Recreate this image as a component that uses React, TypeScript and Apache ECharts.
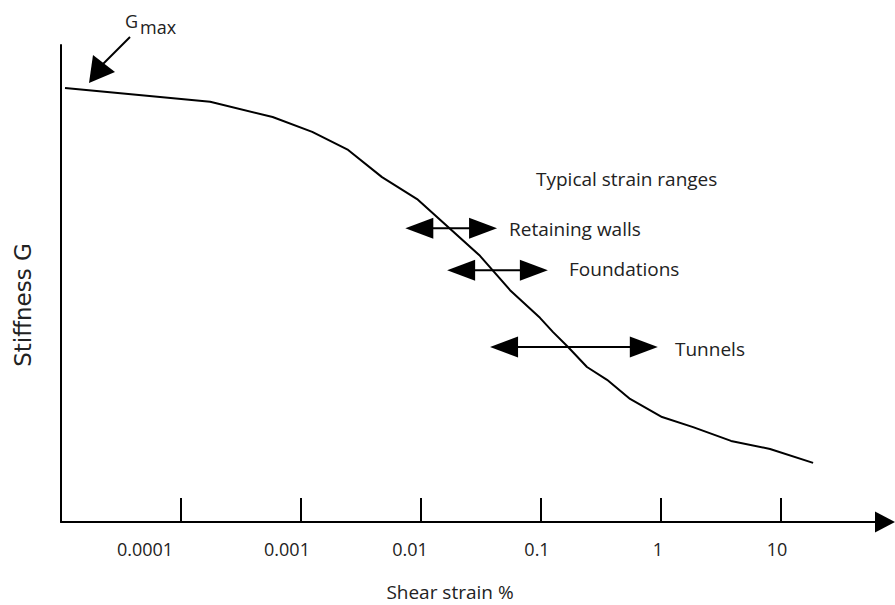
import React, { useEffect, useRef } from "react";
import * as echarts from "echarts";

// Shear strain (%) and relative stiffness G
const strainValues = [
  0.0000108, 0.000175, 0.00058, 0.00124, 0.00247, 0.00473, 0.00927, 0.031,
  0.0552, 0.098, 0.126, 0.168, 0.2415, 0.355, 0.552, 1.02, 1.85, 3.83, 8.1, 18.5,
];
const stiffnessValues = [
  91.0, 88.1, 84.9, 81.8, 78.0, 72.3, 67.7, 55.8, 48.6, 42.8, 39.8, 36.7, 32.5,
  29.8, 25.8, 22.0, 19.9, 17.0, 15.3, 12.4,
];

// Typical strain ranges (min %, max %, row level on the G scale)
const rangeNames = ["Retaining walls", "Foundations", "Tunnels"];
const rangeMinStrain = [0.0074, 0.0165, 0.0376];
const rangeMaxStrain = [0.043, 0.114, 0.94];
const rangeLevel = [61.6, 52.8, 36.7];

// Axis
const tickValues = [0.0001, 0.001, 0.01, 0.1, 1, 10];
const tickLabels = ["0.0001", "0.001", "0.01", "0.1", "1", "10"];
const axisMinStrain = 0.00001;
const axisMaxStrain = 73.5;

// Label shift to the left of its tick (px), as in the reference drawing
const tickLabelShift = [36, 14, 11, 4, 3, 4];

const FONT = "'Open Sans', 'Noto Sans', sans-serif";
const TEXT = "#222";

export default function App() {
  const ref = useRef<HTMLDivElement>(null);
  useEffect(() => {
    if (!ref.current) return;
    const chart = echarts.init(ref.current, undefined, { renderer: "svg" });
    const lg = (v: number) => Math.log10(v);
    const lineData = strainValues.map((s, i) => [lg(s), stiffnessValues[i]]);
    const rangeData = rangeNames.map((n, i) => [
      lg(rangeMinStrain[i]),
      lg(rangeMaxStrain[i]),
      rangeLevel[i],
    ]);
    const tickLog = tickValues.map(lg);
    const rich: any = {};
    tickLabelShift.forEach((s, i) => {
      rich["t" + i] = {
        padding: [0, s * 2, 0, 0],
        fontSize: 18,
        fontFamily: FONT,
        color: TEXT,
      };
    });

    const txt = (text: string, x: number, y: number, size = 19, extra: any = {}) => ({
      type: "text",
      x,
      y,
      style: {
        text,
        fill: TEXT,
        font: `${size}px ${FONT}`,
        textVerticalAlign: "middle",
        ...extra,
      },
    });

    chart.setOption({
      animation: false,
      grid: [
        { left: 61, right: 10, top: 45, bottom: 83 },
        { left: 61, width: 720, top: 45, bottom: 83 },
      ],
      xAxis: [
        {
          type: "value",
          gridIndex: 0,
          min: lg(axisMinStrain),
          max: lg(axisMaxStrain),
          axisLine: {
            show: true,
            onZero: false,
            lineStyle: { color: "#000", width: 2 },
            symbol: ["none", "triangle"],
            symbolSize: [21, 20],
          },
          axisTick: { show: false },
          axisLabel: { show: false },
          splitLine: { show: false },
        },
        {
          type: "value",
          gridIndex: 1,
          min: lg(axisMinStrain),
          max: tickLog[tickLog.length - 1],
          interval: 1,
          axisLine: { show: false, onZero: false },
          axisTick: {
            show: true,
            inside: true,
            length: 24,
            lineStyle: { color: "#000", width: 2 },
          },
          axisLabel: {
            show: true,
            margin: 18,
            showMinLabel: false,
            color: TEXT,
            fontFamily: FONT,
            fontSize: 18,
            rich,
            formatter: (v: number) => {
              const idx = tickLog.findIndex((t) => Math.abs(t - v) < 1e-6);
              return idx >= 0 ? `{t${idx}|${tickLabels[idx]}}` : "";
            },
          },
          splitLine: { show: false },
        },
      ],
      yAxis: [
        {
          type: "value",
          gridIndex: 0,
          min: 0,
          max: 100,
          axisLine: { show: true, onZero: false, lineStyle: { color: "#000", width: 2 } },
          axisTick: { show: false },
          axisLabel: { show: false },
          splitLine: { show: false },
        },
        {
          type: "value",
          gridIndex: 1,
          min: 0,
          max: 100,
          show: false,
        },
      ],
      series: [
        {
          type: "line",
          xAxisIndex: 0,
          yAxisIndex: 0,
          data: lineData,
          showSymbol: false,
          lineStyle: { color: "#000", width: 2 },
          z: 3,
        },
        {
          type: "custom",
          xAxisIndex: 0,
          yAxisIndex: 0,
          data: rangeData,
          encode: { x: [0, 1], y: 2 },
          renderItem: (params: any, api: any) => {
            const a = api.coord([api.value(0), api.value(2)]);
            const b = api.coord([api.value(1), api.value(2)]);
            const L = 28;
            const H = 10.5;
            return {
              type: "group",
              children: [
                {
                  type: "line",
                  shape: { x1: a[0] + L - 2, y1: a[1], x2: b[0] - L + 2, y2: b[1] },
                  style: { stroke: "#000", lineWidth: 2 },
                },
                {
                  type: "polygon",
                  shape: { points: [[a[0], a[1]], [a[0] + L, a[1] - H], [a[0] + L, a[1] + H]] },
                  style: { fill: "#000" },
                },
                {
                  type: "polygon",
                  shape: { points: [[b[0], b[1]], [b[0] - L, b[1] - H], [b[0] - L, b[1] + H]] },
                  style: { fill: "#000" },
                },
              ],
            };
          },
          z: 4,
        },
      ],
      graphic: [
        // G max annotation
        {
          type: "line",
          shape: { x1: 130, y1: 37, x2: 103, y2: 64 },
          style: { stroke: "#000", lineWidth: 2 },
        },
        {
          type: "polygon",
          shape: { points: [[89, 83], [93, 55], [115, 72]] },
          style: { fill: "#000" },
        },
        txt("G", 125, 21, 18),
        txt("max", 140, 27, 18),
        txt("Typical strain ranges", 536, 179),
        txt(rangeNames[0], 509, 229),
        txt(rangeNames[1], 569, 269),
        txt(rangeNames[2], 675, 349),
        txt("Shear strain %", 450, 592, 19, { textAlign: "center", lineHeight: 19 }),
        {
          type: "text",
          x: 23,
          y: 305,
          rotation: Math.PI / 2,
          style: {
            text: "Stiffness G",
            fill: TEXT,
            font: `23px 'DejaVu Sans', sans-serif`,
            textAlign: "center",
            textVerticalAlign: "middle",
          },
        },
      ],
    });
    return () => chart.dispose();
  }, []);
  return (
    <div
      ref={ref}
      style={{ position: "fixed", left: 0, top: 0, width: 895, height: 605, background: "#fff" }}
    />
  );
}
